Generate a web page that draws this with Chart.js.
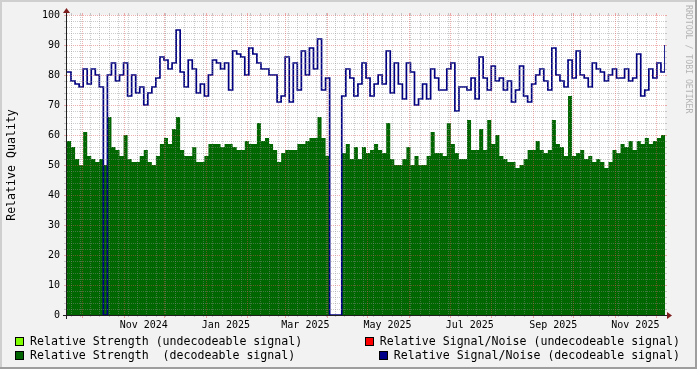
<!DOCTYPE html>
<html>
<head>
<meta charset="utf-8">
<script src="https://cdn.jsdelivr.net/npm/chart.js@4.4.1/dist/chart.umd.min.js"></script>
<style>
  html, body { margin: 0; padding: 0; background: #f2f2f2; }
  #wrap { width: 697px; height: 369px; }
</style>
</head>
<body>
<div id="wrap"><canvas id="rrdChart" width="697" height="369"></canvas></div>
<script>
// one sample every 3 days, starting 20 Sep 2024
const startDate = '2024-09-20';
const spanDays = 444;
const stepDays = 3;

const tickLabels = ['Nov 2024', 'Jan 2025', 'Mar 2025', 'May 2025', 'Jul 2025', 'Sep 2025', 'Nov 2025'];
const tickMonths = ['2024-11-01', '2025-01-01', '2025-03-01', '2025-05-01', '2025-07-01', '2025-09-01', '2025-11-01'];
const yTicks = [0, 10, 20, 30, 40, 50, 60, 70, 80, 90, 100];

const legendLabels = [
    'Relative Strength (undecodeable signal)',
    'Relative Signal/Noise (undecodeable signal)',
    'Relative Strength  (decodeable signal)',
    'Relative Signal/Noise (decodeable signal)'
];

// no undecodeable samples in this period
const strengthUndecodeable = [];
const snrUndecodeable = [];

const strengthDecodeable = [
    58, 56, 52, 50, 61, 53, 52, 51, 52, 50, 66, 56, 55, 53, 60, 52, 51, 51, 53, 55,
    51, 50, 53, 57, 59, 57, 62, 66, 55, 53, 53, 56, 51, 51, 53, 57, 57, 57, 56, 57,
    57, 56, 55, 55, 58, 57, 57, 64, 58, 59, 57, 55, 51, 54, 55, 55, 55, 57, 57, 58,
    59, 59, 66, 59, 53, 0, 0, 0, 54, 57, 52, 56, 52, 56, 54, 55, 57, 55, 54, 64,
    52, 50, 50, 52, 56, 50, 53, 50, 50, 53, 61, 54, 54, 53, 64, 57, 54, 52, 52, 65,
    55, 55, 62, 55, 65, 57, 60, 53, 52, 51, 51, 49, 50, 52, 55, 55, 58, 55, 54, 55,
    65, 57, 56, 53, 73, 53, 54, 55, 52, 53, 51, 52, 51, 49, 51, 55, 54, 57, 56, 58,
    55, 58, 57, 59, 57, 58, 59, 60, 64
];

const snrDecodeable = [
    81, 78, 77, 76, 82, 77, 82, 80, 76, 0, 80, 84, 78, 80, 84, 73, 80, 74, 76, 70,
    74, 76, 79, 86, 85, 82, 84, 95, 81, 76, 85, 82, 74, 77, 73, 80, 85, 84, 82, 84,
    75, 88, 87, 86, 80, 89, 87, 84, 82, 82, 80, 80, 71, 73, 86, 71, 84, 75, 88, 80,
    89, 82, 92, 75, 79, 0, 0, 0, 73, 82, 79, 73, 77, 84, 79, 73, 77, 80, 77, 88,
    74, 84, 77, 72, 84, 81, 70, 72, 77, 72, 82, 79, 75, 75, 82, 84, 68, 76, 76, 75,
    79, 72, 86, 79, 75, 83, 78, 79, 75, 78, 71, 75, 83, 73, 71, 77, 80, 82, 78, 75,
    89, 80, 78, 76, 85, 79, 88, 80, 79, 76, 84, 82, 81, 78, 80, 82, 79, 79, 82, 78,
    79, 87, 73, 75, 82, 79, 84, 81, 90
];

const FONT = 'DejaVu Sans Mono';
const COL = {
    back: '#f2f2f2',
    canvas: '#ffffff',
    shadeA: '#cfcfcf',
    shadeB: '#9e9e9e',
    grid: 'rgba(143,143,143,0.45)',
    mgrid: 'rgba(222,79,79,0.45)',
    arrow: '#7f1f1f',
    axis: '#1f1f1f'
};

function dayOf(iso) {
    return Math.round((Date.parse(iso + 'T00:00:00Z') - Date.parse(startDate + 'T00:00:00Z')) / 86400000);
}

function toPoints(values) {
    return values.map((v, i) => ({ x: i * stepDays, y: v }));
}

// month starts and mondays inside the range, for the grid
function monthDays() {
    const out = [];
    const d = new Date(startDate + 'T00:00:00Z');
    d.setUTCDate(1);
    for (;;) {
        d.setUTCMonth(d.getUTCMonth() + 1);
        const day = dayOf(d.toISOString().slice(0, 10));
        if (day > spanDays) break;
        out.push(day);
    }
    return out;
}
function weekDays() {
    const out = [];
    for (let d = dayOf('2024-09-23'); d < spanDays; d += 7) out.push(d);
    return out;
}

function dashed(ctx, x0, y0, x1, y1, color) {
    ctx.strokeStyle = color;
    ctx.setLineDash([1, 1]);
    ctx.beginPath(); ctx.moveTo(x0, y0); ctx.lineTo(x1, y1); ctx.stroke();
    ctx.setLineDash([]);
}
function solid(ctx, x0, y0, x1, y1, color) {
    ctx.strokeStyle = color;
    ctx.beginPath(); ctx.moveTo(x0, y0); ctx.lineTo(x1, y1); ctx.stroke();
}

const rrdLook = {
    id: 'rrdLook',
    beforeDraw(chart) {
        const { ctx, width, height, chartArea: a } = chart;
        ctx.save();
        ctx.fillStyle = COL.back;
        ctx.fillRect(0, 0, width, height);
        ctx.fillStyle = COL.shadeA;
        ctx.fillRect(0, 0, width, 2);
        ctx.fillRect(0, 0, 2, height);
        ctx.fillStyle = COL.shadeB;
        ctx.fillRect(0, height - 2, width, 2);
        ctx.fillRect(width - 2, 0, 2, height);
        ctx.fillStyle = COL.canvas;
        ctx.fillRect(a.left, a.top, a.right - a.left, a.bottom - a.top);
        ctx.restore();
    },
    afterDatasetsDraw(chart) {
        const { ctx, chartArea: a } = chart;
        const xs = chart.scales.x, ys = chart.scales.y;
        ctx.save();
        ctx.lineWidth = 1;

        // horizontal grid
        for (let v = 2; v <= 100; v += 2) {
            const y = Math.round(ys.getPixelForValue(v)) + 0.5;
            const c = v % 10 === 0 ? COL.mgrid : COL.grid;
            solid(ctx, a.left - 3, y, a.left, y, c);
            solid(ctx, a.right, y, a.right + 2, y, c);
            dashed(ctx, a.left, y, a.right, y, c);
        }
        // vertical grid
        const months = monthDays();
        weekDays().forEach(d => {
            if (months.includes(d)) return;
            const x = Math.round(xs.getPixelForValue(d)) + 0.5;
            solid(ctx, x, a.top - 2, x, a.top, COL.grid);
            solid(ctx, x, a.bottom, x, a.bottom + 2, COL.grid);
            dashed(ctx, x, a.top, x, a.bottom, COL.grid);
        });
        months.forEach(d => {
            const x = Math.round(xs.getPixelForValue(d)) + 0.5;
            solid(ctx, x, a.top - 2, x, a.top, COL.mgrid);
            solid(ctx, x, a.bottom, x, a.bottom + 3, COL.mgrid);
            dashed(ctx, x, a.top, x, a.bottom, COL.mgrid);
        });

        // axes and arrows
        const x0 = a.left - 0.5, y0 = a.bottom + 0.5;
        solid(ctx, a.left - 4, y0, a.right + 4, y0, COL.axis);
        solid(ctx, x0, a.bottom + 4, x0, a.top - 4, COL.axis);
        ctx.fillStyle = COL.arrow;
        ctx.beginPath();
        ctx.moveTo(a.right + 2, y0 - 3.5);
        ctx.lineTo(a.right + 2, y0 + 3.5);
        ctx.lineTo(a.right + 7, y0);
        ctx.closePath(); ctx.fill();
        ctx.beginPath();
        ctx.moveTo(x0 - 3.5, a.top - 2);
        ctx.lineTo(x0 + 3.5, a.top - 2);
        ctx.lineTo(x0, a.top - 7);
        ctx.closePath(); ctx.fill();
        ctx.restore();
    },
    afterDraw(chart) {
        const { ctx } = chart;
        ctx.save();
        // y title
        ctx.fillStyle = '#000';
        ctx.font = '11.6px "' + FONT + '"';
        ctx.textAlign = 'center';
        ctx.textBaseline = 'middle';
        ctx.translate(12, 165);
        ctx.rotate(-Math.PI / 2);
        ctx.fillText('Relative Quality', 0, 0);
        ctx.restore();

        // watermark
        ctx.save();
        ctx.fillStyle = '#b4b4b4';
        ctx.font = '8.2px "' + FONT + '"';
        ctx.textAlign = 'left';
        ctx.textBaseline = 'middle';
        ctx.translate(688, 5);
        ctx.rotate(Math.PI / 2);
        ctx.fillText('RRDTOOL / TOBI OETIKER', 0, 0);
        ctx.restore();

        // legend, two rows by two columns
        ctx.save();
        ctx.font = '11.6px "' + FONT + '"';
        ctx.textBaseline = 'middle';
        const rows = [341.5, 355.5];
        chart.data.datasets.forEach((ds, i) => {
            const row = Math.floor(i / 2), col = i % 2;
            const y = rows[row];
            let tx;
            if (col === 0) {
                tx = 30;
            } else {
                tx = 680 - ctx.measureText(ds.label).width;
            }
            const sx = Math.round(tx - 15);
            ctx.fillStyle = ds.legendColor;
            ctx.fillRect(sx, Math.round(y - 4.5), 9, 9);
            ctx.strokeStyle = '#000';
            ctx.lineWidth = 1;
            ctx.strokeRect(sx + 0.5, Math.round(y - 4.5) + 0.5, 8, 8);
            ctx.fillStyle = '#000';
            ctx.textAlign = 'left';
            ctx.fillText(ds.label, tx, y);
        });
        ctx.restore();
    }
};

new Chart(document.getElementById('rrdChart'), {
    type: 'line',
    data: {
        datasets: [
            {
                label: legendLabels[0],
                data: toPoints(strengthUndecodeable),
                legendColor: '#80ff00',
                borderColor: '#80ff00',
                backgroundColor: '#80ff00',
                fill: 'origin',
                borderWidth: 0,
                pointRadius: 0,
                stepped: true,
                order: 2
            },
            {
                label: legendLabels[1],
                data: toPoints(snrUndecodeable),
                legendColor: '#ff0000',
                borderColor: '#ff0000',
                borderWidth: 1.5,
                pointRadius: 0,
                stepped: true,
                order: 2
            },
            {
                label: legendLabels[2],
                data: toPoints(strengthDecodeable),
                legendColor: '#006400',
                borderColor: 'rgba(0,0,0,0)',
                backgroundColor: '#006600',
                fill: 'origin',
                borderWidth: 0,
                pointRadius: 0,
                stepped: true,
                order: 1
            },
            {
                label: legendLabels[3],
                data: toPoints(snrDecodeable),
                legendColor: '#000088',
                borderColor: '#000080',
                borderWidth: 1.7,
                pointRadius: 0,
                stepped: true,
                fill: false,
                order: 0
            }
        ]
    },
    options: {
        responsive: false,
        animation: false,
        events: [],
        layout: { padding: { left: 0, top: 15, right: 32, bottom: 0 } },
        plugins: {
            legend: { display: false },
            tooltip: { enabled: false }
        },
        scales: {
            x: {
                type: 'linear',
                min: 0,
                max: spanDays,
                grid: { display: false, drawTicks: false },
                border: { display: false },
                afterBuildTicks: s => {
                    // rrdtool puts the label half a month after the month start
                    s.ticks = tickMonths.map(m => ({ value: dayOf(m) + 15 }));
                },
                afterFit: s => { s.height = 54; },
                ticks: {
                    autoSkip: false,
                    maxRotation: 0,
                    padding: 4,
                    color: '#000',
                    font: { family: FONT, size: 10 },
                    callback: (v, i) => tickLabels[i]
                }
            },
            y: {
                min: 0,
                max: 100,
                grid: { display: false, drawTicks: false },
                border: { display: false },
                afterBuildTicks: s => { s.ticks = yTicks.map(v => ({ value: v })); },
                afterFit: s => { s.width = 67; },
                ticks: {
                    padding: 7,
                    color: '#000',
                    font: { family: FONT, size: 10 }
                }
            }
        }
    },
    plugins: [rrdLook]
});
</script>
</body>
</html>
